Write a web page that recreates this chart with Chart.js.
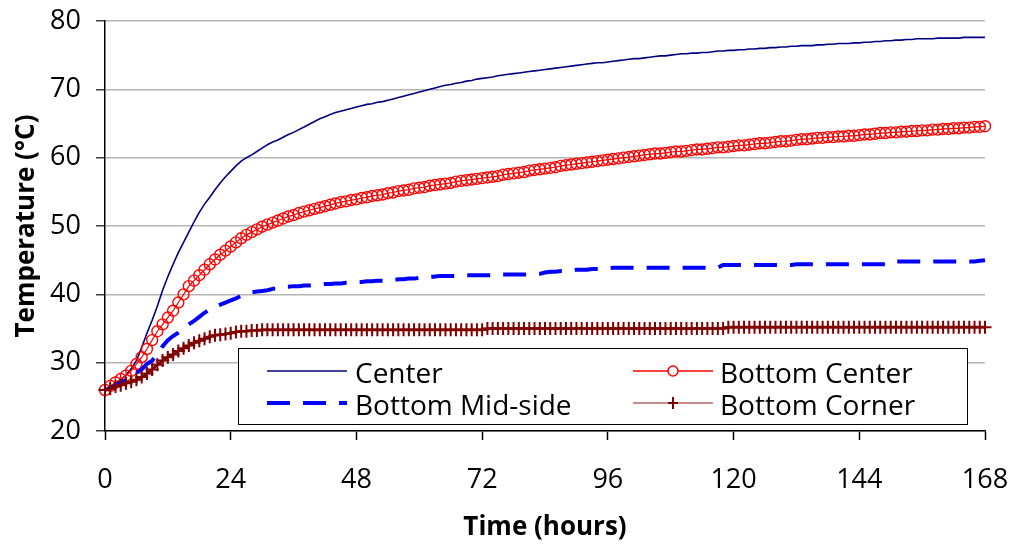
<!DOCTYPE html>
<html>
<head>
<meta charset="utf-8">
<script src="https://cdn.jsdelivr.net/npm/chart.js@4.4.1/dist/chart.umd.min.js"></script>
<style>
  html, body { margin: 0; padding: 0; background: #fff; }
  #wrap { width: 1013px; height: 548px; }
</style>
</head>
<body>
<div id="wrap"><canvas id="chart" width="1013" height="548"></canvas></div>
<script>
// Elapsed time in hours (hourly readings)
const hours = [
  0,1,2,3,4,5,6,7,8,9,10,11,12,13,14,15,16,17,18,19,
  20,21,22,23,24,25,26,27,28,29,30,31,32,33,34,35,36,37,38,39,
  40,41,42,43,44,45,46,47,48,49,50,51,52,53,54,55,56,57,58,59,
  60,61,62,63,64,65,66,67,68,69,70,71,72,73,74,75,76,77,78,79,
  80,81,82,83,84,85,86,87,88,89,90,91,92,93,94,95,96,97,98,99,
  100,101,102,103,104,105,106,107,108,109,110,111,112,113,114,115,116,117,118,119,
  120,121,122,123,124,125,126,127,128,129,130,131,132,133,134,135,136,137,138,139,
  140,141,142,143,144,145,146,147,148,149,150,151,152,153,154,155,156,157,158,159,
  160,161,162,163,164,165,166,167,168
];

// Temperatures (°C) at each sensor location
const center = [
  26.0,26.4,26.9,27.5,28.2,29.1,30.3,32.2,34.3,36.2,
  38.3,40.6,42.6,44.4,46.1,47.6,49.1,50.6,52.0,53.2,
  54.2,55.3,56.3,57.2,58.0,58.8,59.5,60.0,60.4,60.9,
  61.4,61.9,62.3,62.6,63.0,63.4,63.7,64.1,64.5,64.9,
  65.3,65.7,66.0,66.3,66.6,66.8,67.0,67.2,67.4,67.6,
  67.8,67.9,68.1,68.2,68.4,68.6,68.8,69.0,69.2,69.4,
  69.6,69.8,70.0,70.2,70.4,70.6,70.7,70.9,71.0,71.2,
  71.3,71.5,71.6,71.7,71.8,72.0,72.1,72.2,72.3,72.4,
  72.5,72.6,72.7,72.8,72.9,73.0,73.1,73.2,73.3,73.4,
  73.5,73.6,73.7,73.8,73.9,73.9,74.0,74.1,74.2,74.3,
  74.4,74.5,74.5,74.6,74.7,74.8,74.9,74.9,75.0,75.1,
  75.2,75.2,75.3,75.3,75.4,75.4,75.5,75.6,75.6,75.7,
  75.7,75.8,75.8,75.9,75.9,76.0,76.0,76.1,76.1,76.2,
  76.2,76.3,76.3,76.4,76.4,76.4,76.5,76.5,76.6,76.6,
  76.7,76.7,76.7,76.8,76.8,76.9,76.9,77.0,77.0,77.1,
  77.1,77.2,77.2,77.3,77.3,77.4,77.4,77.4,77.4,77.5,
  77.5,77.5,77.5,77.5,77.6,77.6,77.6,77.6,77.6
];

const bottomCenter = [
  26.0,26.6,27.1,27.6,28.1,28.8,29.8,30.8,32.0,33.3,
  34.6,35.6,36.6,37.6,38.8,40.0,41.2,42.0,42.8,43.6,
  44.4,45.1,45.8,46.4,47.0,47.6,48.2,48.7,49.1,49.5,
  49.9,50.2,50.5,50.8,51.1,51.4,51.6,51.9,52.1,52.3,
  52.5,52.7,52.9,53.1,53.3,53.5,53.6,53.8,53.9,54.1,
  54.2,54.4,54.5,54.6,54.8,54.9,55.1,55.2,55.3,55.5,
  55.6,55.7,55.9,56.0,56.1,56.2,56.3,56.5,56.6,56.7,
  56.8,56.9,57.0,57.1,57.2,57.3,57.5,57.6,57.7,57.8,
  57.9,58.1,58.2,58.3,58.4,58.5,58.6,58.8,58.9,59.0,
  59.1,59.2,59.3,59.4,59.5,59.6,59.7,59.8,59.9,60.0,
  60.1,60.2,60.3,60.4,60.5,60.6,60.6,60.7,60.8,60.9,
  60.9,61.0,61.1,61.2,61.2,61.3,61.4,61.5,61.5,61.6,
  61.7,61.8,61.8,61.9,62.0,62.1,62.1,62.2,62.3,62.4,
  62.4,62.5,62.6,62.7,62.7,62.8,62.9,62.9,63.0,63.0,
  63.1,63.1,63.2,63.2,63.3,63.4,63.4,63.5,63.6,63.6,
  63.7,63.7,63.8,63.8,63.9,63.9,64.0,64.0,64.1,64.1,
  64.2,64.2,64.3,64.3,64.4,64.4,64.5,64.5,64.6
];

const bottomMidSide = [
  26.0,26.3,26.7,27.1,27.5,28.0,28.5,29.0,29.8,30.3,
  31.2,32.4,33.3,33.9,34.4,35.0,35.6,36.1,36.7,37.3,
  37.8,38.2,38.5,38.8,39.1,39.4,39.8,40.1,40.3,40.4,
  40.5,40.6,40.8,40.9,41.1,41.1,41.2,41.2,41.3,41.3,
  41.4,41.4,41.5,41.5,41.6,41.6,41.7,41.7,41.8,41.8,
  41.9,41.9,42.0,42.0,42.1,42.1,42.2,42.2,42.3,42.3,
  42.4,42.4,42.5,42.6,42.7,42.7,42.7,42.7,42.8,42.8,
  42.8,42.8,42.8,42.8,42.8,42.9,42.9,42.9,42.9,42.9,
  42.9,42.9,43.0,43.0,43.2,43.3,43.3,43.4,43.4,43.5,
  43.6,43.6,43.6,43.7,43.7,43.7,43.8,43.9,43.9,43.9,
  43.9,43.9,43.9,43.9,43.9,43.9,43.9,43.9,43.9,43.9,
  43.9,43.9,43.9,43.9,43.9,43.9,43.9,43.9,44.3,44.3,
  44.3,44.3,44.3,44.3,44.3,44.3,44.3,44.3,44.3,44.3,
  44.3,44.3,44.4,44.4,44.4,44.4,44.4,44.4,44.4,44.4,
  44.4,44.4,44.4,44.4,44.4,44.4,44.4,44.4,44.4,44.4,
  44.4,44.8,44.8,44.8,44.8,44.8,44.8,44.8,44.8,44.8,
  44.8,44.8,44.8,44.8,44.8,44.8,44.8,44.9,45.0
];

const bottomCorner = [
  26.0,26.2,26.5,26.7,27.0,27.2,27.5,27.9,28.4,29.0,
  29.7,30.3,30.8,31.2,31.7,32.1,32.5,32.9,33.2,33.5,
  33.8,34.0,34.1,34.2,34.3,34.5,34.6,34.6,34.7,34.7,
  34.8,34.8,34.8,34.8,34.8,34.8,34.8,34.8,34.8,34.8,
  34.8,34.8,34.8,34.8,34.8,34.8,34.8,34.8,34.8,34.8,
  34.8,34.8,34.8,34.8,34.8,34.8,34.8,34.8,34.8,34.8,
  34.8,34.8,34.8,34.8,34.8,34.8,34.8,34.8,34.8,34.8,
  34.8,34.8,34.8,35.0,35.0,35.0,35.0,35.0,35.0,35.0,
  35.0,35.0,35.0,35.0,35.0,35.0,35.0,35.0,35.0,35.0,
  35.0,35.0,35.0,35.0,35.0,35.0,35.0,35.0,35.0,35.0,
  35.0,35.0,35.0,35.0,35.0,35.0,35.0,35.0,35.0,35.0,
  35.0,35.0,35.0,35.0,35.0,35.0,35.0,35.0,35.0,35.2,
  35.2,35.2,35.2,35.2,35.2,35.2,35.2,35.2,35.2,35.2,
  35.2,35.2,35.2,35.2,35.2,35.2,35.2,35.2,35.2,35.2,
  35.2,35.2,35.2,35.2,35.2,35.2,35.2,35.2,35.2,35.2,
  35.2,35.2,35.2,35.2,35.2,35.2,35.2,35.2,35.2,35.2,
  35.2,35.2,35.2,35.2,35.2,35.2,35.2,35.2,35.2
];

const seriesNames = ['Center', 'Bottom Center', 'Bottom Mid-side', 'Bottom Corner'];
const xTicks = [0, 24, 48, 72, 96, 120, 144, 168];
const yTicks = [20, 30, 40, 50, 60, 70, 80];

const FONT = "'Open Sans', 'Liberation Sans', sans-serif";

function toPoints(values) {
  return hours.map((h, i) => ({ x: h, y: values[i] }));
}

// Boxed two-column legend drawn inside the plot area
const boxLegend = {
  id: 'boxLegend',
  afterDraw(chart) {
    const ctx = chart.ctx;
    const bx = 238.5, by = 348.5, bw = 729, bh = 76;
    ctx.save();
    ctx.fillStyle = '#ffffff';
    ctx.fillRect(bx, by, bw, bh);
    ctx.strokeStyle = '#000000';
    ctx.lineWidth = 1;
    ctx.strokeRect(bx, by, bw, bh);

    const cols = [{ x0: 267, x1: 347, tx: 355 }, { x0: 633, x1: 713, tx: 720 }];
    const rows = [{ ly: 371, ty: 383 }, { ly: 403, ty: 414.5 }];
    // dataset index -> slot (row-major across two columns)
    const slots = [[0, 0, 0], [1, 0, 1], [2, 1, 0], [3, 1, 1]];
    ctx.font = "28px " + FONT;
    ctx.textBaseline = 'alphabetic';
    ctx.textAlign = 'left';
    slots.forEach(([di, r, c]) => {
      const ds = chart.data.datasets[di];
      const col = cols[c], row = rows[r];
      ctx.save();
      ctx.strokeStyle = ds.legendLine || ds.borderColor;
      ctx.lineWidth = ds.legendWidth || ds.borderWidth;
      ctx.setLineDash(ds.borderDash || []);
      ctx.beginPath();
      ctx.moveTo(col.x0, row.ly);
      ctx.lineTo(col.x1, row.ly);
      ctx.stroke();
      ctx.setLineDash([]);
      const mx = (col.x0 + col.x1) / 2;
      if (ds.pointStyle === 'circle' && ds.pointRadius > 0) {
        ctx.fillStyle = '#ffffff';
        ctx.strokeStyle = ds.pointBorderColor;
        ctx.lineWidth = 1.5;
        ctx.beginPath();
        ctx.arc(mx, row.ly, 5, 0, Math.PI * 2);
        ctx.fill();
        ctx.stroke();
      } else if (ds.pointStyle === 'cross' && ds.pointRadius > 0) {
        ctx.strokeStyle = ds.pointBorderColor;
        ctx.lineWidth = 2;
        ctx.beginPath();
        ctx.moveTo(mx, row.ly - 6); ctx.lineTo(mx, row.ly + 6);
        ctx.moveTo(mx - 5, row.ly); ctx.lineTo(mx + 5, row.ly);
        ctx.stroke();
      }
      ctx.restore();
      ctx.fillStyle = '#000000';
      ctx.fillText(seriesNames[di], col.tx, row.ty);
    });
    ctx.restore();
  }
};

new Chart(document.getElementById('chart'), {
  type: 'line',
  data: {
    datasets: [
      {
        label: seriesNames[0], data: toPoints(center),
        borderColor: '#000080', borderWidth: 1.6,
        pointRadius: 0, tension: 0, order: 4, clip: 12
      },
      {
        label: seriesNames[1], data: toPoints(bottomCenter),
        borderColor: '#ff0000', borderWidth: 1.2, legendWidth: 1.6,
        pointStyle: 'circle', pointRadius: 5.5, pointBorderWidth: 1.4,
        pointBorderColor: '#ff0000', pointBackgroundColor: 'rgba(0,0,0,0)',
        tension: 0, order: 3, clip: 12
      },
      {
        label: seriesNames[2], data: toPoints(bottomMidSide),
        borderColor: '#0000ff', borderWidth: 4, borderDash: [23, 13],
        pointRadius: 0, tension: 0, order: 2, clip: 12
      },
      {
        label: seriesNames[3], data: toPoints(bottomCorner),
        borderColor: '#800000', borderWidth: 2.6,
        legendLine: 'rgba(128,0,0,0.6)', legendWidth: 1.6,
        pointStyle: 'cross', pointRadius: 6.5, pointBorderWidth: 2,
        pointBorderColor: '#800000', pointBackgroundColor: '#800000',
        tension: 0, order: 1, clip: 12
      }
    ]
  },
  options: {
    responsive: false,
    animation: false,
    devicePixelRatio: 1,
    layout: { padding: { top: 21, right: 28, bottom: 0, left: 0 } },
    plugins: { legend: { display: false }, tooltip: { enabled: false } },
    scales: {
      x: {
        type: 'linear', min: 0, max: 168,
        afterBuildTicks(scale) { scale.ticks = xTicks.map(v => ({ value: v })); },
        ticks: { color: '#000', font: { family: FONT, size: 27 }, padding: 24, maxRotation: 0, autoSkip: false },
        grid: { drawOnChartArea: false, tickLength: 9, tickColor: '#000', tickWidth: 1.5 },
        border: { color: '#000', width: 1.5 },
        title: {
          display: true, text: 'Time (hours)', color: '#000',
          font: { family: FONT, size: 26, weight: 'bold' },
          padding: { top: 0, bottom: 5 }
        },
        afterFit(scale) {
          scale.height = 117;
          scale.paddingLeft = 0; scale.paddingRight = 0;
        }
      },
      y: {
        min: 20, max: 80,
        afterBuildTicks(scale) { scale.ticks = yTicks.map(v => ({ value: v })); },
        ticks: { color: '#000', font: { family: FONT, size: 27 }, padding: 15 },
        grid: { color: '#b4b4b4', lineWidth: 1.5, tickLength: 9, tickColor: '#404040' },
        border: { color: '#000', width: 1.5 },
        title: {
          display: true, text: 'Temperature (°C)', color: '#000',
          font: { family: FONT, size: 26, weight: 'bold' },
          padding: { top: 11, bottom: 0 }
        },
        afterFit(scale) {
          scale.width = 105;
          scale.paddingTop = 0; scale.paddingBottom = 0;
        }
      }
    }
  },
  plugins: [boxLegend]
});
</script>
</body>
</html>
